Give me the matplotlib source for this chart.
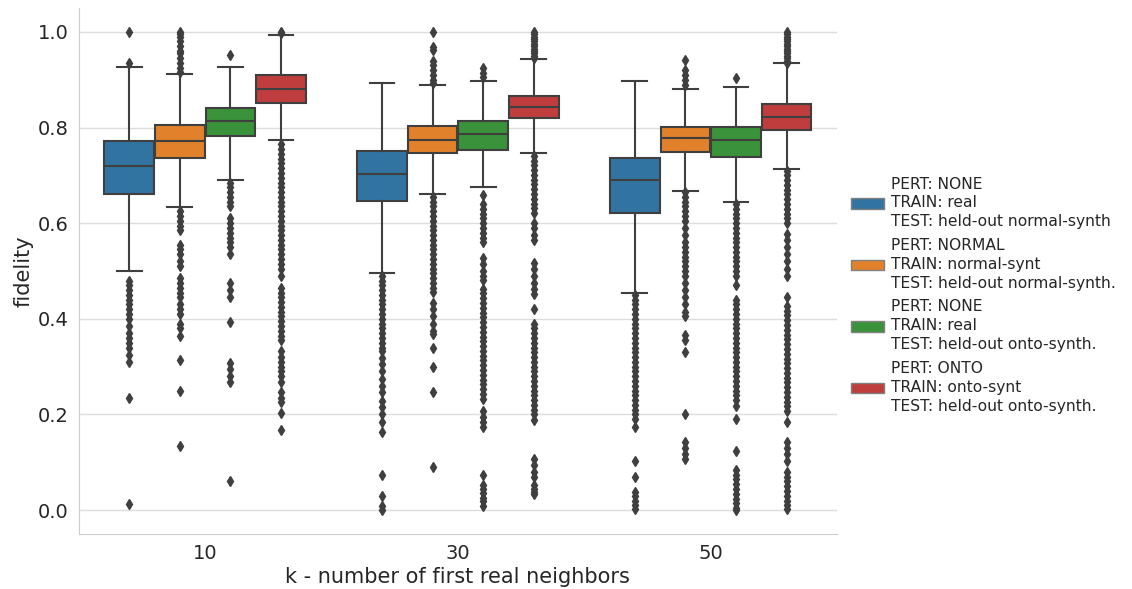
import matplotlib.pyplot as plt
from matplotlib.patches import Patch

# groups on the x axis
k_values = ['10', '30', '50']

labels = [
    'PERT: NONE\nTRAIN: real\nTEST: held-out normal-synth',
    'PERT: NORMAL\nTRAIN: normal-synt\nTEST: held-out normal-synth.',
    'PERT: NONE\nTRAIN: real\nTEST: held-out onto-synth.',
    'PERT: ONTO\nTRAIN: onto-synt\nTEST: held-out onto-synth.',
]
colors = ['#3274a1', '#e1812c', '#3a923a', '#c03d3e']

# box stats per hue: [whislo, q1, med, q3, whishi] for k = 10, 30, 50
none_real = [[.500, .662, .720, .771, .926],
             [.495, .646, .703, .751, .893],
             [.453, .622, .691, .736, .897]]
normal_synt = [[.633, .737, .771, .805, .911],
               [.660, .746, .774, .803, .890],
               [.668, .749, .779, .802, .881]]
none_onto = [[.691, .782, .813, .841, .926],
             [.675, .753, .786, .813, .897],
             [.644, .739, .773, .802, .885]]
onto_synt = [[.773, .851, .881, .910, .994],
             [.746, .819, .844, .867, .943],
             [.713, .794, .823, .850, .934]]

# outliers
b10_fl = [1.0, .935, .48, .47, .46, .45, .44, .43, .42, .41, .40, .385, .37, .36, .35, .34, .325, .31, .234, .012]
o10_fl = [1.0, .995, .99, .98, .97, .96, .955, .945, .935, .925, .917,
          .625, .615, .605, .595, .585, .555, .545, .535, .52, .51, .485, .475, .465, .455, .445, .43, .42, .41,
          .39, .38, .365, .314, .25, .135]
g10_fl = [.951, .685, .675, .665, .655, .645, .635, .61, .60, .59, .58, .57, .56, .55, .535, .474, .46, .445,
          .394, .308, .295, .28, .268, .061]
r10_fl = [1.0, .998, .765, .755, .745, .735, .725, .715, .705, .695, .685, .675, .665, .655, .645, .635, .625,
          .615, .605, .595, .585, .575, .565, .555, .545, .535, .525, .515, .505, .49, .465, .455, .445, .435,
          .425, .415, .405, .395, .385, .375, .365, .355, .333, .32, .31, .30, .29, .28, .268, .247, .235, .225,
          .203, .167]

b30_fl = [.49, .48, .47, .46, .45, .44, .43, .42, .41, .40, .39, .38, .37, .36, .35, .34, .333, .319, .305, .29,
          .275, .26, .247, .229, .215, .2, .185, .164, .074, .030, .009, .0]
o30_fl = [.999, .968, .962, .939, .93, .92, .91, .90, .893, .655, .645, .635, .625, .615, .605, .595, .585, .575,
          .565, .555, .545, .535, .525, .515, .505, .495, .485, .475, .465, .456, .434, .42, .405, .39, .375, .369,
          .338, .30, .247, .09]
g30_fl = [.925, .915, .905, .658, .64, .63, .62, .61, .60, .59, .58, .57, .56, .528, .515, .50, .49, .481, .463,
          .453, .443, .433, .423, .413, .403, .393, .383, .373, .363, .353, .343, .333, .323, .313, .303, .293,
          .283, .273, .263, .253, .243, .232, .207, .195, .185, .174, .074, .052, .045, .035, .025, .018, .009]
r30_fl = [1.0, .995, .99, .985, .98, .975, .97, .965, .96, .955, .95, .946, .741, .731, .721, .711, .701, .691,
          .681, .671, .661, .651, .641, .631, .621, .6, .59, .575, .564, .517, .505, .49, .475, .462, .452, .42,
          .39, .38, .37, .36, .35, .34, .33, .32, .31, .30, .29, .28, .27, .26, .25, .24, .23, .22, .21, .2, .189,
          .106, .095, .08, .07, .052, .045, .038, .034]

b50_fl = [.45, .44, .43, .42, .41, .40, .39, .38, .37, .36, .35, .34, .33, .32, .31, .30, .29, .28, .27, .26,
          .25, .24, .23, .22, .21, .2, .19, .174, .102, .07, .037, .03, .02, .01, .003]
o50_fl = [.941, .92, .91, .90, .89, .665, .655, .645, .635, .625, .615, .605, .59, .575, .56, .55, .54, .53, .52,
          .51, .50, .49, .475, .46, .445, .43, .415, .405, .366, .355, .33, .2, .142, .13, .118, .106]
g50_fl = [.903, .64, .63, .62, .61, .60, .59, .58, .57, .56, .55, .54, .53, .52, .51, .50, .49, .47, .44, .43,
          .42, .41, .40, .39, .38, .37, .36, .35, .34, .33, .32, .31, .30, .29, .28, .27, .26, .25, .24, .23, .218,
          .19, .124, .084, .074, .064, .054, .044, .034, .024, .014, .004, .0]
r50_fl = [1.0, .995, .99, .985, .98, .975, .97, .965, .96, .955, .95, .945, .94, .934, .71, .70, .69, .68, .67,
          .66, .65, .64, .63, .62, .61, .60, .578, .565, .55, .535, .52, .505, .49, .445, .427, .417, .407, .397,
          .387, .377, .367, .357, .347, .337, .327, .317, .307, .297, .287, .277, .267, .257, .247, .237, .227,
          .217, .207, .185, .142, .13, .118, .102, .08, .07, .06, .05, .04, .03, .02, .01, .003]

series = [none_real, normal_synt, none_onto, onto_synt]
fliers = [[b10_fl, b30_fl, b50_fl],
          [o10_fl, o30_fl, o50_fl],
          [g10_fl, g30_fl, g50_fl],
          [r10_fl, r30_fl, r50_fl]]

fig = plt.figure(figsize=(11.32, 5.89), dpi=100)
ax = fig.add_axes([0.0695, 0.0934, 0.67, 0.893])

edge = '#3f3f3f'
offsets = [-0.3, -0.1, 0.1, 0.3]
for h in range(4):
    stats = []
    for g in range(3):
        lo, q1, med, q3, hi = series[h][g]
        stats.append(dict(whislo=lo, q1=q1, med=med, q3=q3, whishi=hi, fliers=fliers[h][g]))
    pos = [g + offsets[h] for g in range(3)]
    ax.bxp(stats, positions=pos, widths=0.196, patch_artist=True, showfliers=True,
           boxprops=dict(facecolor=colors[h], edgecolor=edge, linewidth=1.5),
           medianprops=dict(color=edge, linewidth=1.5),
           whiskerprops=dict(color=edge, linewidth=1.5),
           capprops=dict(color=edge, linewidth=1.5),
           flierprops=dict(marker='d', markersize=5, markerfacecolor=edge, markeredgecolor=edge,
                           linestyle='none'),
           manage_ticks=False, zorder=2)

ax.set_xlim(-0.5, 2.5)
ax.set_ylim(-0.05, 1.05)
ax.set_xticks(range(3))
ax.set_xticklabels(k_values)
ax.set_yticks([0.0, 0.2, 0.4, 0.6, 0.8, 1.0])
ax.tick_params(length=0, labelsize=14, labelcolor='#262626', pad=7)
ax.yaxis.grid(True, color='#dddddd', linewidth=1, zorder=0)
ax.set_axisbelow(True)
for s in ['top', 'right']:
    ax.spines[s].set_visible(False)
for s in ['left', 'bottom']:
    ax.spines[s].set_color('#cccccc')
ax.set_xlabel('k - number of first real neighbors', fontsize=15, color='#262626', labelpad=3)
ax.set_ylabel('fidelity', fontsize=15, color='#262626', labelpad=3)

handles = [Patch(facecolor=c, edgecolor='#808080') for c in colors]
leg = ax.legend(handles, labels, loc='center left', bbox_to_anchor=(1.0, 0.454), frameon=False,
                fontsize=11.2, labelspacing=0.55, handlelength=2.1, handletextpad=0.45,
                labelcolor='#262626')
for t in leg.get_texts():
    t.set_linespacing(1.33)

fig.savefig('out.png')
